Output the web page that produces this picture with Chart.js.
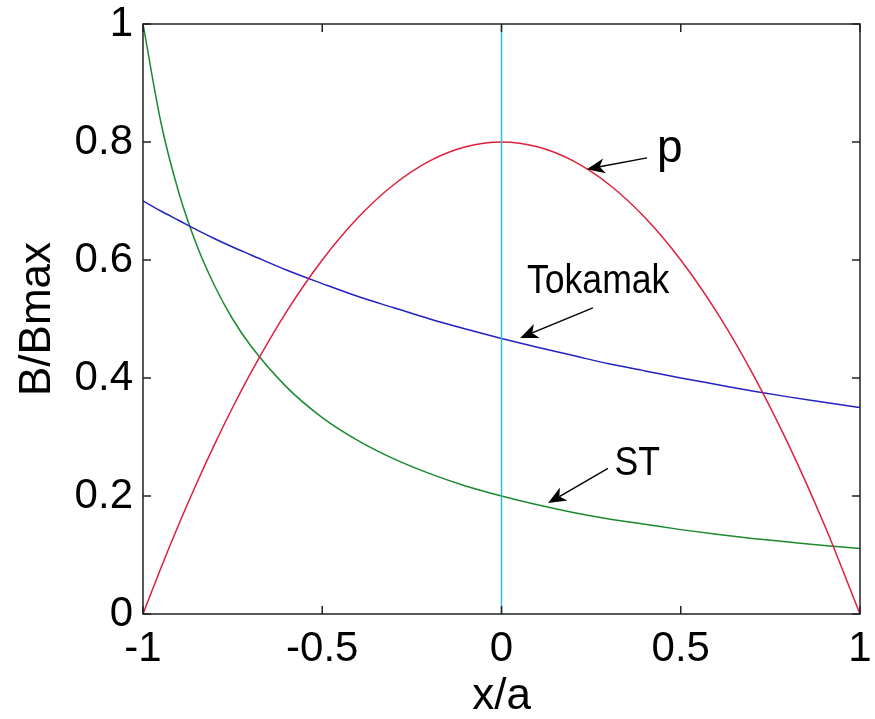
<!DOCTYPE html>
<html>
<head>
<meta charset="utf-8">
<script src="https://cdn.jsdelivr.net/npm/chart.js@4.4.1/dist/chart.umd.min.js"></script>
<style>
  html, body { margin: 0; padding: 0; background: #fff; }
  canvas { display: block; }
</style>
</head>
<body>
<canvas id="fieldChart" width="875" height="719"></canvas>
<script>
// values (x/a positions and curve heights)
const xPositions = [-1, -0.95, -0.9, -0.85, -0.8, -0.75, -0.7, -0.6, -0.5, -0.4, -0.3, -0.2, -0.1,
  0, 0.1, 0.2, 0.3, 0.4, 0.5, 0.6, 0.7, 0.8, 0.9, 1];
const pressure = [0, 0.078, 0.152, 0.222, 0.288, 0.350, 0.408, 0.512, 0.600, 0.672, 0.728, 0.768, 0.792,
  0.800, 0.792, 0.768, 0.728, 0.672, 0.600, 0.512, 0.408, 0.288, 0.152, 0];
const tokamakField = [0.700, 0.683, 0.667, 0.651, 0.636, 0.622, 0.609, 0.583, 0.560, 0.538, 0.519, 0.500, 0.483,
  0.467, 0.452, 0.438, 0.424, 0.412, 0.400, 0.389, 0.378, 0.368, 0.359, 0.350];
const stField = [1.000, 0.833, 0.714, 0.625, 0.556, 0.500, 0.455, 0.385, 0.333, 0.294, 0.263, 0.238, 0.217,
  0.200, 0.185, 0.172, 0.161, 0.152, 0.143, 0.135, 0.128, 0.122, 0.116, 0.111];
const midLineX = [0, 0];
const midLineY = [0, 1];

const xTicks = [-1, -0.5, 0, 0.5, 1];
const xTickLabels = ['-1', '-0.5', '0', '0.5', '1'];
const yTicks = [0, 0.2, 0.4, 0.6, 0.8, 1];
const yTickLabels = ['0', '0.2', '0.4', '0.6', '0.8', '1'];

// annotations, in data units
const noteLabels = ['p', 'Tokamak', 'ST'];
const noteTextX = [0.434, 0.071, 0.315];
const noteTextY = [0.766, 0.544, 0.236];
const arrowTailX = [0.406, 0.255, 0.297];
const arrowTailY = [0.773, 0.519, 0.247];
const arrowHeadX = [0.238, 0.052, 0.130];
const arrowHeadY = [0.754, 0.468, 0.188];

const FONT = "'Liberation Sans', Arial, Helvetica, sans-serif";

function toPoints(xs, ys) {
  return xs.map((x, i) => ({ x: x, y: ys[i] }));
}

function drawArrow(ctx, x1, y1, x2, y2) {
  const ang = Math.atan2(y2 - y1, x2 - x1);
  const len = 18, half = 7.5, notch = 13;
  ctx.beginPath();
  ctx.moveTo(x1, y1);
  ctx.lineTo(x2 - Math.cos(ang) * notch, y2 - Math.sin(ang) * notch);
  ctx.stroke();
  const bx = x2 - Math.cos(ang) * len, by = y2 - Math.sin(ang) * len;
  ctx.beginPath();
  ctx.moveTo(x2, y2);
  ctx.lineTo(bx - Math.sin(ang) * half, by + Math.cos(ang) * half);
  ctx.lineTo(x2 - Math.cos(ang) * notch, y2 - Math.sin(ang) * notch);
  ctx.lineTo(bx + Math.sin(ang) * half, by - Math.cos(ang) * half);
  ctx.closePath();
  ctx.fill();
}

const frameAndNotes = {
  id: 'frameAndNotes',
  afterDatasetsDraw(chart) {
    const { ctx, chartArea: a } = chart;
    const xs = chart.scales.x, ys = chart.scales.y;
    ctx.save();
    ctx.strokeStyle = '#222';
    ctx.lineWidth = 1.5;
    ctx.strokeRect(a.left, a.top, a.right - a.left, a.bottom - a.top);
    ctx.beginPath();
    xTicks.forEach(v => {
      const px = xs.getPixelForValue(v);
      ctx.moveTo(px, a.bottom); ctx.lineTo(px, a.bottom - 8);
      ctx.moveTo(px, a.top); ctx.lineTo(px, a.top + 8);
    });
    yTicks.forEach(v => {
      const py = ys.getPixelForValue(v);
      ctx.moveTo(a.left, py); ctx.lineTo(a.left + 8, py);
      ctx.moveTo(a.right, py); ctx.lineTo(a.right - 8, py);
    });
    ctx.stroke();

    // arrows + labels
    ctx.strokeStyle = '#000';
    ctx.fillStyle = '#000';
    ctx.lineWidth = 1.4;
    noteLabels.forEach((txt, i) => {
      drawArrow(ctx,
        xs.getPixelForValue(arrowTailX[i]), ys.getPixelForValue(arrowTailY[i]),
        xs.getPixelForValue(arrowHeadX[i]), ys.getPixelForValue(arrowHeadY[i]));
      const tx = xs.getPixelForValue(noteTextX[i]);
      const ty = ys.getPixelForValue(noteTextY[i]);
      ctx.save();
      ctx.textAlign = 'left';
      ctx.textBaseline = 'alphabetic';
      if (txt === 'p') {
        ctx.font = '46px ' + FONT;
        ctx.fillText(txt, tx, ty);
      } else {
        ctx.font = '40px ' + FONT;
        ctx.translate(tx, ty);
        ctx.scale(0.89, 1);
        ctx.fillText(txt, 0, 0);
      }
      ctx.restore();
    });
    ctx.restore();
  }
};

const lineStyle = {
  showLine: true,
  pointRadius: 0,
  borderWidth: 1.5,
  fill: false,
  cubicInterpolationMode: 'monotone'
};

const fieldChart = new Chart(document.getElementById('fieldChart').getContext('2d'), {
  type: 'scatter',
  data: {
    datasets: [
      { ...lineStyle, label: 'mid', data: toPoints(midLineX, midLineY), borderColor: '#30c0cc', cubicInterpolationMode: 'default' },
      { ...lineStyle, label: 'p', data: toPoints(xPositions, pressure), borderColor: '#de1f3c' },
      { ...lineStyle, label: 'Tokamak', data: toPoints(xPositions, tokamakField), borderColor: '#2222c4' },
      { ...lineStyle, label: 'ST', data: toPoints(xPositions, stField), borderColor: '#1b8a2e' }
    ]
  },
  options: {
    responsive: false,
    animation: false,
    layout: { padding: { left: 0, right: 15, top: 24, bottom: 0 } },
    plugins: {
      legend: { display: false },
      tooltip: { enabled: false }
    },
    scales: {
      x: {
        type: 'linear',
        min: -1,
        max: 1,
        grid: { display: false, drawTicks: false },
        border: { display: false },
        afterBuildTicks: scale => { scale.ticks = xTicks.map(v => ({ value: v })); },
        afterFit: scale => {
          scale.height = 105;
          scale.paddingLeft = 0;
          scale.paddingRight = 0;
        },
        ticks: {
          color: '#000',
          padding: 14,
          maxRotation: 0,
          font: { family: FONT, size: 42, lineHeight: 1 },
          callback: (value, index) => xTickLabels[index]
        },
        title: {
          display: true,
          text: 'x/a',
          color: '#000',
          font: { family: FONT, size: 44, lineHeight: 1 },
          padding: { top: 0, bottom: 0 }
        }
      },
      y: {
        type: 'linear',
        min: 0,
        max: 1,
        grid: { display: false, drawTicks: false },
        border: { display: false },
        afterBuildTicks: scale => { scale.ticks = yTicks.map(v => ({ value: v })); },
        afterFit: scale => {
          scale.width = 143;
          scale.paddingTop = 0;
          scale.paddingBottom = 0;
        },
        ticks: {
          color: '#000',
          padding: 10,
          font: { family: FONT, size: 42, lineHeight: 1 },
          callback: (value, index) => yTickLabels[index]
        },
        title: {
          display: true,
          text: 'B/Bmax',
          color: '#000',
          font: { family: FONT, size: 44, lineHeight: 1 },
          padding: { top: 16, bottom: 0 }
        }
      }
    }
  },
  plugins: [frameAndNotes]
});
</script>
</body>
</html>
